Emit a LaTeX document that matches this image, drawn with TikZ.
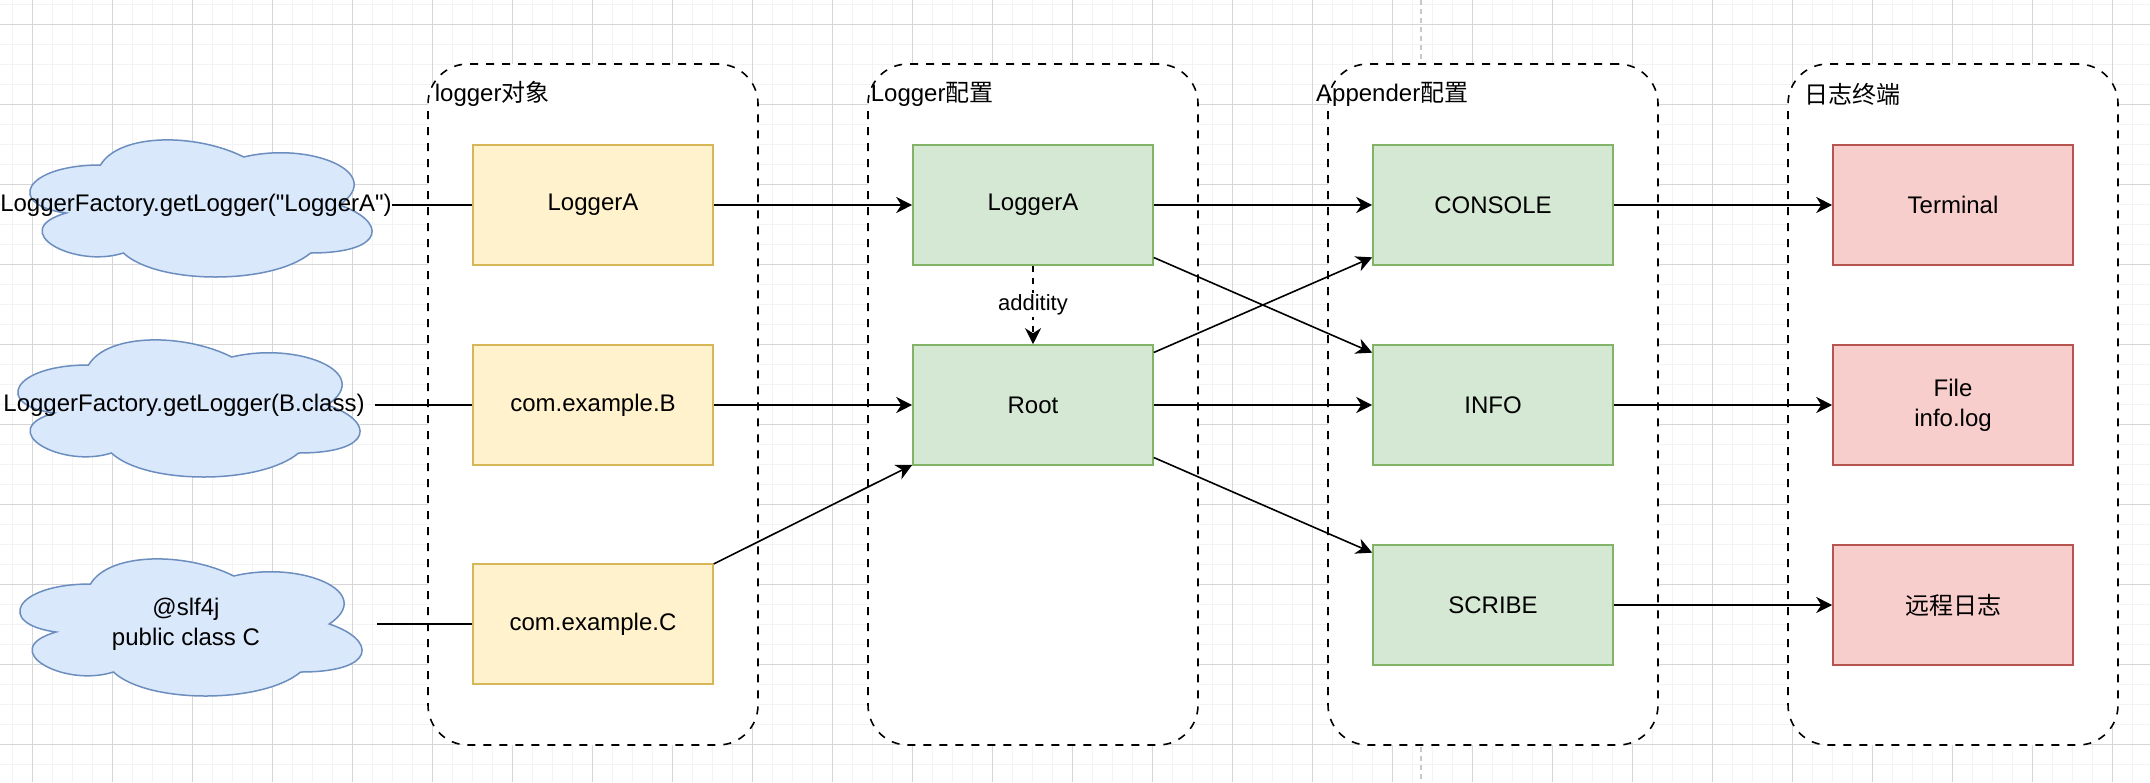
\documentclass[tikz,border=0pt]{standalone}
\usepackage{fontspec}
\setmainfont{Liberation Sans}
\newfontfamily\cjk{Noto Sans CJK SC}
\usetikzlibrary{arrows.meta}
\definecolor{gridminor}{RGB}{243,243,243}
\definecolor{gridmajor}{RGB}{214,214,214}
\definecolor{pagebreak}{RGB}{200,200,200}
\definecolor{objfill}{HTML}{FFF2CC}
\definecolor{objline}{HTML}{D6B656}
\definecolor{cfgfill}{HTML}{D5E8D4}
\definecolor{cfgline}{HTML}{82B366}
\definecolor{endfill}{HTML}{F8CECC}
\definecolor{endline}{HTML}{B85450}
\definecolor{cloudfill}{HTML}{DAE8FC}
\definecolor{cloudline}{HTML}{6C8EBF}
\pgfdeclarelayer{back}
\pgfsetlayers{back,main}
\newcommand\cloudround[1]{%
  \begin{pgfonlayer}{back}
  \begin{scope}[shift={(#1.center)}, xshift=-95.5pt, yshift=40pt, x=191pt, y=-80pt]
  \filldraw[fill=cloudfill, draw=cloudline, line width=0.75pt]
    (0.25,0.25) .. controls (0.05,0.25) and (0,0.5) .. (0.16,0.55)
    .. controls (0,0.66) and (0.18,0.9) .. (0.31,0.8)
    .. controls (0.4,1) and (0.7,1) .. (0.8,0.8)
    .. controls (1,0.8) and (1,0.6) .. (0.875,0.5)
    .. controls (1,0.3) and (0.8,0.1) .. (0.625,0.2)
    .. controls (0.5,0.05) and (0.3,0.05) .. (0.25,0.25) -- cycle;
  \end{scope}
  \end{pgfonlayer}}

\begin{document}
\begin{tikzpicture}[x=0.5pt, y=-0.5pt, font=\fontsize{12}{15}\selectfont,
  box/.style={minimum width=120pt, minimum height=60pt, inner sep=0pt, line width=0.8pt, align=center},
  objbox/.style={box, fill=objfill, draw=objline},
  cfgbox/.style={box, fill=cfgfill, draw=cfgline},
  endbox/.style={box, fill=endfill, draw=endline},
  group/.style={draw=black, fill=white, line width=0.8pt, dash pattern=on 4pt off 4pt,
    rounded corners=20pt, minimum width=165pt, minimum height=340.5pt, inner sep=0pt},
  cloudtext/.style={minimum width=191pt, minimum height=80pt, inner sep=0pt, align=center},
  link/.style={line width=0.8pt},
  arrow/.style={link, -{Stealth[length=8pt, width=8pt, inset=2.5pt]}}]
\useasboundingbox (0,0) rectangle (2150,782);
% grid of the canvas
\begin{pgfonlayer}{back}
\fill[white] (0,0) rectangle (2150,782);
\foreach \gx in {12,32,...,2150} \draw[gridminor, line width=0.5pt] (\gx,0) -- (\gx,782);
\foreach \gy in {4,24,...,782} \draw[gridminor, line width=0.5pt] (0,\gy) -- (2150,\gy);
\foreach \gx in {32,112,...,2150} \draw[gridmajor, line width=0.5pt] (\gx,0) -- (\gx,782);
\foreach \gy in {24,104,...,782} \draw[gridmajor, line width=0.5pt] (0,\gy) -- (2150,\gy);
\draw[pagebreak, line width=0.75pt, dash pattern=on 2.5pt off 2pt] (1421,0) -- (1421,782);
\end{pgfonlayer}
% columns
\foreach \g/\cx/\t in {grpObj/593/{logger{\cjk 对象}}, grpCfg/1033/{Logger{\cjk 配置}},
    grpApp/1493/{Appender{\cjk 配置}}, grpEnd/1953/{{\cjk 日志终端}}} {
  \node[group] (\g) at (\cx,404.5) {};
  \node (\g-title) at ([xshift=32.5pt, yshift=-15.5pt]\g.north west) {\t};
}
% sources
\node[cloudtext] (cloudA) at (196,205) {LoggerFactory.getLogger(\textquotedbl LoggerA\textquotedbl)};
\node[cloudtext] (cloudB) at (184,405) {LoggerFactory.getLogger(B.class)};
\node[cloudtext] (cloudC) at (186,624) {@slf4j\\public class C};
\foreach \c in {cloudA,cloudB,cloudC} \cloudround{\c};
% boxes
\node[objbox] (objA) at (593,205) {LoggerA};
\node[objbox] (objB) at (593,405) {com.example.B};
\node[objbox] (objC) at (593,624) {com.example.C};
\node[cfgbox] (cfgA) at (1033,205) {LoggerA};
\node[cfgbox] (cfgRoot) at (1033,405) {Root};
\node[cfgbox] (appConsole) at (1493,205) {CONSOLE};
\node[cfgbox] (appInfo) at (1493,405) {INFO};
\node[cfgbox] (appScribe) at (1493,605) {SCRIBE};
\node[endbox] (endTerm) at (1953,205) {Terminal};
\node[endbox] (endFile) at (1953,405) {File\\info.log};
\node[endbox] (endRemote) at (1953,605) {{\cjk 远程日志}};
% connectors
\draw[link] (cloudA.east) -- (objA.west);
\draw[link] (cloudB.east) -- (objB.west);
\draw[link] (cloudC.east) -- (objC.west);
\draw[arrow] (objA) -- (cfgA);
\draw[arrow] (objB) -- (cfgRoot);
\draw[arrow] (objC) -- (cfgRoot);
\draw[arrow, dash pattern=on 3pt off 3pt] (cfgA) -- node[fill=white, inner sep=1pt, font=\fontsize{11}{13}\selectfont] (addLbl) {additity} (cfgRoot);
\draw[arrow] (cfgA) -- (appConsole);
\draw[arrow] (cfgA) -- (appInfo);
\draw[arrow] (cfgRoot) -- (appConsole);
\draw[arrow] (cfgRoot) -- (appInfo);
\draw[arrow] (cfgRoot) -- (appScribe);
\draw[arrow] (appConsole) -- (endTerm);
\draw[arrow] (appInfo) -- (endFile);
\draw[arrow] (appScribe) -- (endRemote);
\end{tikzpicture}
\end{document}
